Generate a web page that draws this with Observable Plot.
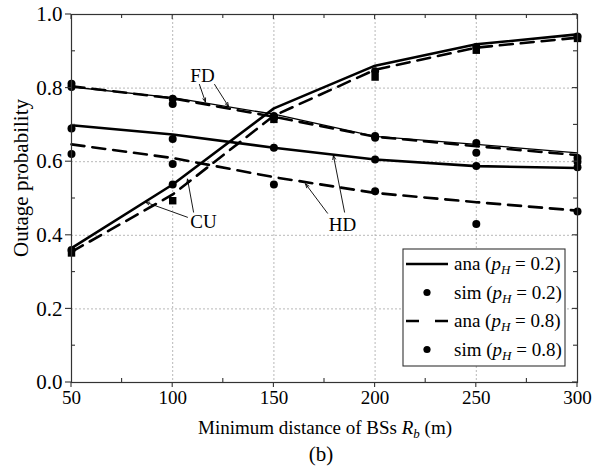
<!DOCTYPE html>
<html><head><meta charset="utf-8">
<script src="https://cdn.jsdelivr.net/npm/d3@7"></script>
<script src="https://cdn.jsdelivr.net/npm/@observablehq/plot@0.6"></script>
<style>
body{margin:0;background:#fff}
svg{font-family:"Liberation Serif","Times New Roman",serif}
</style>
</head><body><div id="chart"></div>
<script>
// ---- data ----
const distances = [50, 100, 150, 200, 250, 300];
const xMajorTicks = [50, 100, 150, 200, 250, 300];
const xMinorTicks = [75, 125, 175, 225, 275];
const yMajorTicks = [0, 0.2, 0.4, 0.6, 0.8, 1.0];
const yMinorTicks = [0.1, 0.3, 0.5, 0.7, 0.9];

const cuAna02 = [0.365, 0.538, 0.745, 0.861, 0.919, 0.946];
const cuAna08 = [0.355, 0.511, 0.725, 0.850, 0.910, 0.937];
const cuSim02 = [0.360, 0.538, 0.720, 0.846, 0.912, 0.940];
const cuSim08 = [0.352, 0.494, 0.715, 0.830, 0.903, 0.935];

const fdAna02 = [0.803, 0.774, 0.729, 0.669, 0.647, 0.624];
const fdAna08 = [0.805, 0.772, 0.722, 0.668, 0.642, 0.618];
const fdSim02 = [0.812, 0.771, 0.724, 0.665, 0.651, 0.610];
const fdSim08 = [0.803, 0.757, 0.720, 0.670, 0.624, 0.600];

const hdAna02 = [0.699, 0.674, 0.638, 0.606, 0.588, 0.583];
const hdAna08 = [0.647, 0.610, 0.558, 0.515, 0.490, 0.467];
const hdSim02 = [0.690, 0.662, 0.638, 0.606, 0.588, 0.585];
const hdSim08 = [0.621, 0.594, 0.538, 0.520, 0.431, 0.465];

const annotLabels = ["FD", "CU", "HD"];
const annotPos = [[114.7, 0.832], [115.2, 0.437], [183.9, 0.427]];
const arrowsFrom = [[113.2, 0.810], [120.7, 0.810], [107.3, 0.449], [110.3, 0.463], [176.5, 0.460], [184.9, 0.463]];
const arrowsTo   = [[116.2, 0.762], [127.6, 0.750], [86.6, 0.490], [107.3, 0.553], [165.6, 0.540], [179.4, 0.617]];

const legendLabels = ["ana", "sim", "ana", "sim"];
const legendP = ["0.2", "0.2", "0.8", "0.8"];

// ---- build tables ----
const toRows = (arr) => distances.map((d, i) => ({x: d, y: arr[i]}));
const thick = 2.6, dash = "13,8";
const FONT = "Liberation Serif, Times New Roman, serif";

const plot = Plot.plot({
  width: 592, height: 475,
  marginLeft: 71, marginRight: 15, marginTop: 14, marginBottom: 93,
  style: {fontFamily: FONT, fontSize: "19px", background: "white", color: "black"},
  x: {domain: [50, 300]},
  y: {domain: [0, 1]},
  marks: [
    Plot.gridX([100, 150, 200, 250], {stroke: "#b0b0b0", strokeOpacity: 1, strokeWidth: 0.9, strokeDasharray: "2,2"}),
    Plot.gridY([0.2, 0.4, 0.6, 0.8], {stroke: "#b0b0b0", strokeOpacity: 1, strokeWidth: 0.9, strokeDasharray: "2,2"}),
    Plot.axisX(xMajorTicks, {tickSize: 0, tickPadding: 8, fontSize: 19, label: null, tickFormat: d => String(d)}),
    Plot.axisY(yMajorTicks, {tickSize: 0, tickPadding: 9, fontSize: 21, label: null, tickFormat: d => d.toFixed(1)}),
    // analytical lines
    Plot.line(toRows(fdAna02), {x: "x", y: "y", stroke: "black", strokeWidth: 1.3}),
    Plot.line(toRows(fdAna08), {x: "x", y: "y", stroke: "black", strokeWidth: thick, strokeDasharray: dash}),
    Plot.line(toRows(hdAna02), {x: "x", y: "y", stroke: "black", strokeWidth: thick}),
    Plot.line(toRows(hdAna08), {x: "x", y: "y", stroke: "black", strokeWidth: thick, strokeDasharray: dash}),
    Plot.line(toRows(cuAna02), {x: "x", y: "y", stroke: "black", strokeWidth: thick}),
    Plot.line(toRows(cuAna08), {x: "x", y: "y", stroke: "black", strokeWidth: thick, strokeDasharray: dash}),
    // simulation markers
    Plot.dot(toRows(fdSim02), {x: "x", y: "y", fill: "black", r: 4}),
    Plot.dot(toRows(fdSim08), {x: "x", y: "y", fill: "black", r: 4}),
    Plot.dot(toRows(hdSim02), {x: "x", y: "y", fill: "black", r: 4}),
    Plot.dot(toRows(hdSim08), {x: "x", y: "y", fill: "black", r: 4}),
    Plot.dot(toRows(cuSim02), {x: "x", y: "y", fill: "black", r: 4}),
    Plot.dot(toRows(cuSim08), {x: "x", y: "y", fill: "black", r: 4.2, symbol: "square"}),
    // annotations
    Plot.arrow(arrowsFrom.map((f, i) => ({x1: f[0], y1: f[1], x2: arrowsTo[i][0], y2: arrowsTo[i][1]})),
      {x1: "x1", y1: "y1", x2: "x2", y2: "y2", stroke: "black", strokeWidth: 0.9, headLength: 7, headAngle: 40}),
    Plot.text(annotLabels.map((t, i) => ({t, x: annotPos[i][0], y: annotPos[i][1]})),
      {x: "x", y: "y", text: "t", fontSize: 19, fill: "black"}),
    Plot.frame({stroke: "#333", strokeWidth: 1.2})
  ]
});

document.getElementById("chart").appendChild(plot);

// ---- ticks, titles and legend drawn with the plot's own scales ----
const svg = d3.select(plot);
const sx = plot.scale("x"), sy = plot.scale("y");
const X = v => sx.apply(v), Y = v => sy.apply(v);
const x0 = X(50), x1 = X(300), y0 = Y(0), y1 = Y(1);
const tk = svg.append("g").attr("stroke", "#333").attr("stroke-width", 1.1);
xMajorTicks.forEach(v => {
  tk.append("line").attr("x1", X(v)).attr("x2", X(v)).attr("y1", y0).attr("y2", y0 + 5);
  tk.append("line").attr("x1", X(v)).attr("x2", X(v)).attr("y1", y1).attr("y2", y1 + 5);
});
xMinorTicks.forEach(v => {
  tk.append("line").attr("x1", X(v)).attr("x2", X(v)).attr("y1", y0).attr("y2", y0 - 4);
  tk.append("line").attr("x1", X(v)).attr("x2", X(v)).attr("y1", y1).attr("y2", y1 + 4);
});
yMajorTicks.forEach(v => {
  tk.append("line").attr("x1", x0 - 6).attr("x2", x0).attr("y1", Y(v)).attr("y2", Y(v));
  tk.append("line").attr("x1", x1 - 5).attr("x2", x1).attr("y1", Y(v)).attr("y2", Y(v));
});
yMinorTicks.forEach(v => {
  tk.append("line").attr("x1", x0).attr("x2", x0 + 4).attr("y1", Y(v)).attr("y2", Y(v));
  tk.append("line").attr("x1", x1 - 4).attr("x2", x1).attr("y1", Y(v)).attr("y2", Y(v));
});

const tg = svg.append("g").attr("font-size", 19).attr("fill", "black")
  .attr("font-family", FONT);
const xt = tg.append("text").attr("x", (x0 + x1) / 2 + 1).attr("y", y0 + 52).attr("text-anchor", "middle");
xt.append("tspan").text("Minimum distance of BSs ");
xt.append("tspan").attr("font-style", "italic").text("R");
xt.append("tspan").attr("font-style", "italic").attr("font-size", 13).attr("dy", 4).text("b");
xt.append("tspan").attr("dy", -4).text(" (m)");
tg.append("text").attr("x", (x0 + x1) / 2 - 3).attr("y", y0 + 79).attr("text-anchor", "middle").attr("font-size", 21).text("(b)");
tg.append("text").attr("transform", `translate(${x0 - 43},${(y0 + y1) / 2 - 20}) rotate(-90)`)
  .attr("text-anchor", "middle").attr("font-size", 21).text("Outage probability");

// legend
const lg = svg.append("g");
const bw = 162, bh = 117;
const bx = x1 - 12 - bw, by = y0 - 16 - bh;
lg.append("rect").attr("x", bx).attr("y", by).attr("width", bw).attr("height", bh)
  .attr("fill", "white").attr("stroke", "#333").attr("stroke-width", 1.1);
legendLabels.forEach((lab, i) => {
  const cy = by + 15 + i * 28.5;
  if (lab === "ana") {
    lg.append("line").attr("x1", bx + 3).attr("x2", bx + 45).attr("y1", cy).attr("y2", cy)
      .attr("stroke", "black").attr("stroke-width", thick)
      .attr("stroke-dasharray", i === 2 ? "13,16" : null);
  } else {
    lg.append("circle").attr("cx", bx + 24).attr("cy", cy).attr("r", 3.6).attr("fill", "black");
  }
  const t = lg.append("text").attr("x", bx + 51).attr("y", cy + 6).attr("font-size", 19)
    .attr("text-anchor", "start").attr("font-family", FONT);
  t.append("tspan").text(lab + " (");
  t.append("tspan").attr("font-style", "italic").text("p");
  t.append("tspan").attr("font-style", "italic").attr("font-size", 13).attr("dy", 4).text("H");
  t.append("tspan").attr("dy", -4).text(" = " + legendP[i] + ")");
});
</script>
</body></html>
